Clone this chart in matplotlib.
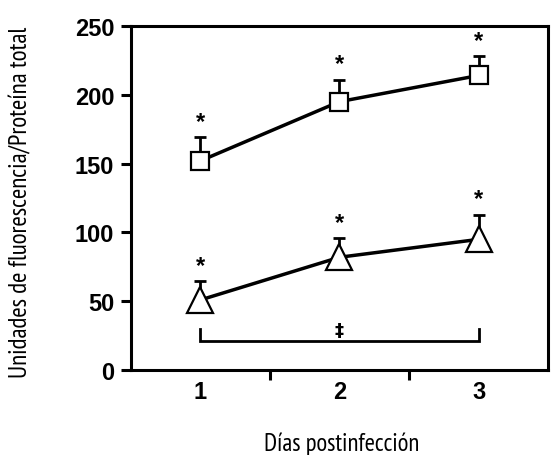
import matplotlib
matplotlib.use("Agg")
import matplotlib.pyplot as plt

days = [1, 2, 3]
squares = [152, 195, 214]
squares_err = [17, 16, 14]
triangles = [51, 82, 95]
triangles_err = [14, 14, 18]
bracket_y = 21
bracket_label = "‡"

label_font = ["PT Sans Narrow", "Fira Sans Condensed", "DejaVu Sans"]

fig = plt.figure(figsize=(5.52, 4.56), dpi=100)
ax = fig.add_axes([0.237, 0.186, 0.756, 0.755])

for y, err, marker, size in [
    (squares, squares_err, "s", 13.5),
    (triangles, triangles_err, "^", 19),
]:
    ax.errorbar(
        days, y, yerr=[[0] * 3, err],
        fmt="none", ecolor="black", elinewidth=2, capsize=4.5, capthick=2, zorder=2,
    )
    ax.plot(
        days, y, color="black", linewidth=2.5, marker=marker, markersize=size,
        markerfacecolor="white", markeredgecolor="black", markeredgewidth=1.6, zorder=3,
    )
    for d, v, e in zip(days, y, err):
        ax.text(d, v + e + 3, "*", ha="center", va="bottom",
                fontsize=17, fontweight="bold", family="Liberation Sans")

# bracket across days
ax.plot([1, 1, 3, 3], [bracket_y + 9, bracket_y, bracket_y, bracket_y + 9],
        color="black", linewidth=2, solid_joinstyle="miter")
ax.text(2, bracket_y + 2, bracket_label, ha="center", va="bottom",
        fontsize=13, fontweight="bold", family="DejaVu Sans")

ax.set_xlim(0.5, 3.5)
ax.set_ylim(0, 250)
ax.set_yticks([0, 50, 100, 150, 200, 250])
ax.set_xticks([1.5, 2.5])
ax.set_xticklabels([])
ax.set_xticks(days, minor=True)
ax.set_xticklabels([str(d) for d in days], minor=True)
ax.tick_params(axis="x", which="minor", length=0, pad=7)
ax.tick_params(axis="both", which="major", length=7, width=2.2, direction="out")
ax.tick_params(axis="y", pad=5)
for lbl in ax.get_xticklabels(minor=True) + ax.get_yticklabels():
    lbl.set_fontfamily("Liberation Sans")
    lbl.set_fontweight("bold")
    lbl.set_fontsize(17)

for spine in ax.spines.values():
    spine.set_linewidth(2.2)

ylab = fig.text(0.038, 0.557, "Unidades de fluorescencia/Proteína total", rotation=90,
                ha="center", va="center", fontsize=14, family=label_font)
xlab = fig.text(0.618, 0.012, "Días postinfección", ha="center", va="baseline",
                fontsize=14, family=label_font)

# size the labels to the lengths measured on the original
renderer = fig.canvas.get_renderer()
for t, target, along in [(ylab, 355, "height"), (xlab, 157, "width")]:
    ext = t.get_window_extent(renderer)
    t.set_fontsize(t.get_fontsize() * target / getattr(ext, along))

fig.savefig("out.png", dpi=100)
